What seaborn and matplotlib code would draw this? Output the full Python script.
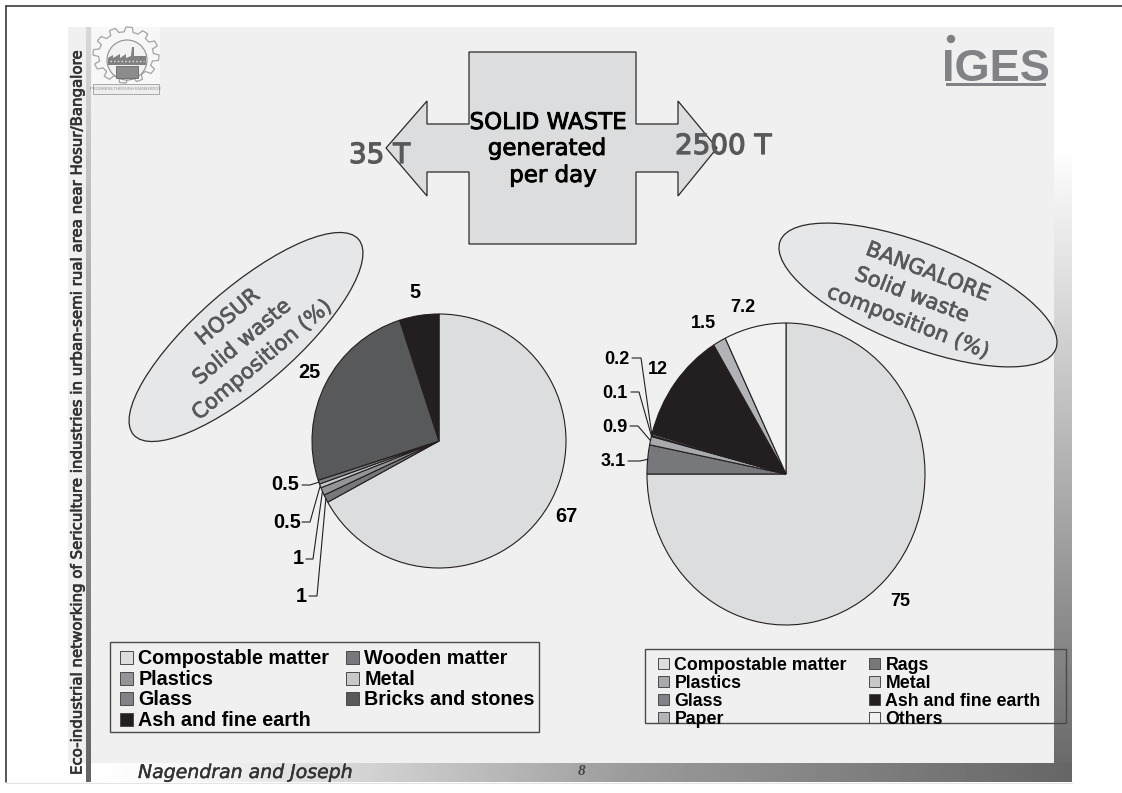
import numpy as np
import matplotlib
matplotlib.use("Agg")
import matplotlib.pyplot as plt
import matplotlib.patheffects as pe
from matplotlib.patches import Ellipse, Polygon, Rectangle, Circle
import seaborn as sns

sns.set_theme(style="white")
plt.rcParams["font.family"] = ["Liberation Sans", "DejaVu Sans"]

# Waste composition in percent
hosur_labels = ["Compostable matter", "Wooden matter", "Plastics", "Metal",
                "Glass", "Bricks and stones", "Ash and fine earth"]
hosur_values = [67, 1, 1, 0.5, 0.5, 25, 5]
hosur_text = ["67", "1", "1", "0.5", "0.5", "25", "5"]
hosur_colors = ["#dcddde", "#77787b", "#939598", "#c7c8ca",
                "#808285", "#58595b", "#231f20"]

bangalore_labels = ["Compostable matter", "Rags", "Plastics", "Metal",
                    "Glass", "Ash and fine earth", "Paper", "Others"]
bangalore_values = [75, 3.1, 0.9, 0.1, 0.2, 12, 1.5, 7.2]
bangalore_text = ["75", "3.1", "0.9", "0.1", "0.2", "12", "1.5", "7.2"]
bangalore_colors = ["#dcddde", "#77787b", "#a7a9ac", "#c7c8ca",
                    "#808285", "#231f20", "#b1b3b6", "#f1f1f1"]

daily_tonnes = ["35 T", "2500 T"]

W, H = 1122, 793
COMIC = "DejaVu Sans"
GREY = "#58595b"
fig = plt.figure(figsize=(W / 100, H / 100), dpi=100, facecolor="white")


def canvas(z):
    ax = fig.add_axes([0, 0, 1, 1], zorder=z)
    ax.set_xlim(0, W)
    ax.set_ylim(H, 0)
    ax.axis("off")
    ax.patch.set_alpha(0)
    return ax


bg = canvas(0)
top = canvas(3)


def gradient(ax, x0, x1, y0, y1, stops, levels, vertical):
    t = np.linspace(y0 if vertical else x0, y1 if vertical else x1, 256)
    grey = np.interp(t, stops, levels) / 255
    img = grey[:, None] if vertical else grey[None, :]
    ax.imshow(img, extent=(x0, x1, y1, y0), cmap="gray", vmin=0, vmax=1,
              aspect="auto", zorder=1, interpolation="bilinear")


# Slide background and its shaded edges
bg.add_patch(Rectangle((68, 27), 986, 736, fc="#f0f0f0", ec="none", zorder=0))
gradient(bg, 1054, 1072, 145, 782, [145, 782], [255, 102], True)
gradient(bg, 91, 1072, 763, 782, [91, 200, 540, 630, 1072],
         [255, 245, 175, 155, 102], False)
gradient(bg, 86, 91, 27, 782, [27, 300, 782], [216, 176, 100], True)
bg.set_xlim(0, W)
bg.set_ylim(H, 0)

# Page rule
bg.plot([6, W], [6, 6], color="#2a2a2a", lw=1.1, zorder=2)
bg.plot([6, 6], [6, 782], color="#2a2a2a", lw=1.1, zorder=2)
bg.plot([6, 1072], [782.5, 782.5], color="#e4e4e4", lw=0.8, zorder=2)

# University emblem
bg.add_patch(Rectangle((92, 27), 68, 68, fc="#f7f7f7", ec="none", zorder=2))
teeth = 12
ang = np.linspace(0, 2 * np.pi, teeth * 8, endpoint=False)
rad = np.where((np.arange(teeth * 8) % 8) < 4, 1.0, 0.83)
bg.add_patch(Polygon(np.c_[126 + 33 * rad * np.cos(ang), 55 + 28 * rad * np.sin(ang)],
                     fc="#f7f7f7", ec="#a4a4a4", lw=0.9, zorder=3))
bg.add_patch(Circle((127, 60), 20, fc="#f2f2f2", ec="#8f8f8f", lw=0.8, zorder=3))
bg.add_patch(Polygon([(108, 65), (108, 58), (113, 55), (113, 58), (120, 54),
                      (120, 58), (126, 54), (126, 58), (131, 56), (132, 47),
                      (134, 47), (134, 56), (146, 56), (146, 65)],
                     fc="#808080", ec="none", zorder=4))
bg.plot([110, 144], [61, 61], color="#e8e8e8", lw=1, ls=":", zorder=5)
bg.add_patch(Rectangle((116, 66), 22, 12, fc="#8c8c8c", ec="#666666", lw=0.6, zorder=4))
bg.add_patch(Rectangle((93, 84), 66, 10, fc="#eeeeee", ec="#a8a8a8", lw=0.7, zorder=4))
bg.text(126, 89, "PROGRESS THROUGH KNOWLEDGE", fontsize=2.9, color="#888888",
        ha="center", va="center", zorder=5)

# Institute mark
bg.text(996, 81, "IGES", fontsize=32.5, color="#808285", weight="bold",
        family="Liberation Sans", ha="center", va="baseline", zorder=3)
bg.add_patch(Circle((951, 39), 4.2, fc="#808285", ec="none", zorder=3))
bg.add_patch(Rectangle((946, 83), 100, 3, fc="#808285", ec="none", zorder=3))

# Block with two outgoing arrows
bg.add_patch(Polygon([(469, 52), (636, 52), (636, 124), (678, 124), (678, 101),
                      (717, 148), (678, 196), (678, 172), (636, 172), (636, 244),
                      (469, 244), (469, 172), (427, 172), (427, 196), (386, 148),
                      (427, 101), (427, 124), (469, 124)],
                     fc="#dcddde", ec="#2a2a2a", lw=0.9, zorder=3))
for line, x, y in zip(["SOLID WASTE", "generated", "per day"],
                      [548, 547, 553], [129, 155, 182]):
    top.text(x, y, line, fontsize=16.5, family=COMIC, color="black", ha="center",
             va="baseline", path_effects=[pe.withStroke(linewidth=0.6, foreground="black")])
for label, x, y in zip(daily_tonnes, [349, 675], [163, 154]):
    top.text(x, y, label, fontsize=20, family=COMIC, color=GREY, ha="left", va="baseline",
             path_effects=[pe.withStroke(linewidth=0.9, foreground=GREY)])

# Side caption and footer
bg.text(77, 775, "Eco-industrial networking of Sericulture industries in "
        "urban-semi rual area near Hosur/Bangalore", rotation=90, fontsize=10.8,
        family=COMIC, color="#333333", ha="center", va="bottom", zorder=3,
        path_effects=[pe.withStroke(linewidth=0.5, foreground="#333333")])
bg.text(138, 778, "Nagendran and Joseph", fontsize=13.6, style="italic", family=COMIC,
        color="#333333", va="baseline", zorder=3,
        path_effects=[pe.withStroke(linewidth=0.3, foreground="#333333")])
bg.text(582, 775, "8", fontsize=11, style="italic", weight="bold",
        family="Liberation Serif", color="#444444", ha="center", va="baseline", zorder=3)

# City callouts
for centre, size, angle in [((246, 337), (298, 98), -41), ((918, 295), (296, 102), 21.4)]:
    bg.add_patch(Ellipse(centre, size[0], size[1], angle=angle, fc="#e6e7e8",
                         ec="#2a2a2a", lw=0.9, zorder=3))
callouts = [
    (["HOSUR", "Solid waste", "Composition (%)"],
     [(228, 317), (242, 342), (262, 360)], 40),
    (["BANGALORE", "Solid waste", "composition (%)"],
     [(928, 272), (912, 295), (908, 322)], -21),
]
for lines, spots, rot in callouts:
    for line, (x, y) in zip(lines, spots):
        top.text(x, y, line, fontsize=15.2, family=COMIC, color=GREY, rotation=rot,
                 rotation_mode="anchor", ha="center", va="center",
                 path_effects=[pe.withStroke(linewidth=0.5, foreground=GREY)])


def draw_pie(values, colors, cx, cy, rx, ry):
    ax = fig.add_axes([(cx - rx) / W, 1 - (cy + ry) / H, 2 * rx / W, 2 * ry / H], zorder=2)
    ax.pie(values, colors=sns.color_palette(colors), startangle=90, counterclock=False,
           radius=1, wedgeprops=dict(edgecolor="#231f20", linewidth=0.8, clip_on=False))
    ax.set_aspect("auto")
    ax.set_xlim(-1, 1)
    ax.set_ylim(-1, 1)
    ax.patch.set_alpha(0)


def rim_point(values, i, cx, cy, rx, ry):
    """Pixel position on the pie edge at the middle of wedge i."""
    turn = (sum(values[:i]) + values[i] / 2) / sum(values) * 2 * np.pi
    return cx + rx * np.sin(turn), cy - ry * np.cos(turn)


def draw_labels(values, text, spots, elbows, fontsize, geom):
    for i, (label, (x, y)) in enumerate(zip(text, spots)):
        top.text(x, y, label, fontsize=fontsize, weight="bold", color="black",
                 ha="center", va="center")
        if elbows[i] is not None:
            (x0, y0), x1 = elbows[i]
            ex, ey = rim_point(values, i, *geom)
            top.plot([x0, x1, ex], [y0, y0, ey], color="#231f20", lw=0.8)


hosur_geom = (439, 441, 127, 127)
draw_pie(hosur_values, hosur_colors, *hosur_geom)
draw_labels(hosur_values, hosur_text,
            [(566, 517), (301, 597), (298, 559), (287, 522), (285, 485), (309, 373), (415, 293)],
            [None, ((309, 596), 317), ((306, 559), 313), ((302, 522), 310),
             ((302, 485), 310), None, None],
            14.3, hosur_geom)

bangalore_geom = (786, 474, 139, 151)
draw_pie(bangalore_values, bangalore_colors, *bangalore_geom)
draw_labels(bangalore_values, bangalore_text,
            [(900, 601), (613, 461), (615, 427), (615, 393), (617, 359), (658, 369), (703, 324), (743, 308)],
            [None, ((628, 461), 640), ((630, 426), 638), ((631, 392), 639),
             ((632, 358), 641), None, None, None],
            13, bangalore_geom)


def draw_legend(labels, colors, box, col_x, baselines, swatch, lift, fontsize):
    x0, y0, x1, y1 = box
    for i, (label, color) in enumerate(zip(labels, colors)):
        col, row = i % 2, i // 2
        x, y = col_x[col], baselines[row]
        top.add_patch(Rectangle((x, y - swatch - lift), swatch, swatch, fc=color,
                                ec="#4a4a4a", lw=0.7))
        top.text(x + swatch + 5.5, y, label, fontsize=fontsize, weight="bold",
                 color="black", ha="left", va="baseline")
    top.add_patch(Rectangle((x0, y0), x1 - x0, y1 - y0, fc="none", ec="#4a4a4a", lw=1.0))


draw_legend(hosur_labels, hosur_colors, (110, 642, 539, 732), (120, 346),
            (664, 685, 705, 726), 13, 0, 14.2)
draw_legend(bangalore_labels, bangalore_colors, (645, 649, 1066, 723), (658, 869),
            (670, 688, 706, 724), 11, 1, 12.75)

fig.savefig("out.png", dpi=100)
